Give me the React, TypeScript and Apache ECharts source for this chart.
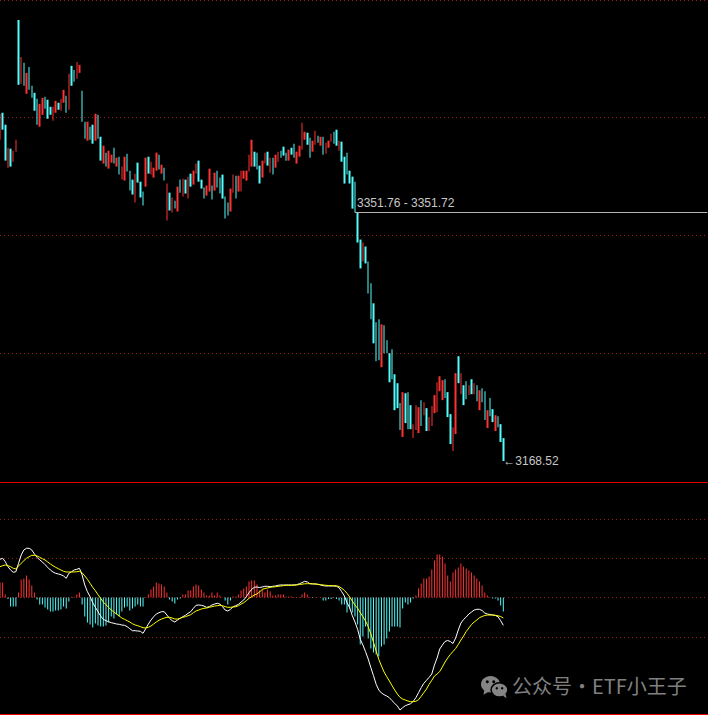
import React, { useEffect, useRef } from "react";
import * as echarts from "echarts";

// ---- price bars (high / low; 1 = up (red), 0 = down (cyan)) ----
const highs = [
  3424.6, 3425.3, 3416.5, 3399.5, 3398.8, 3397.3, 3405.4, 3493.7, 3466.5, 3462.1,
  3454.7, 3459.1, 3445.2, 3440.0, 3435.6, 3431.9, 3436.3, 3437.1, 3434.9, 3429.7,
  3429.7, 3434.1, 3432.7, 3435.6, 3442.2, 3437.8, 3454.0, 3459.9, 3456.9, 3462.8,
  3460.6, 3441.5, 3418.7, 3418.7, 3415.0, 3416.5, 3424.6, 3423.8, 3407.6, 3401.0,
  3395.9, 3397.3, 3394.4, 3399.5, 3392.2, 3392.9, 3385.6, 3392.9, 3395.1, 3382.6,
  3376.0, 3380.4, 3388.5, 3374.5, 3367.2, 3392.2, 3392.9, 3389.2, 3384.8, 3395.9,
  3394.4, 3387.0, 3384.8, 3373.1, 3366.4, 3362.8, 3360.5, 3370.8, 3376.0, 3376.7,
  3376.0, 3378.2, 3380.4, 3382.6, 3387.8, 3390.0, 3376.0, 3370.1, 3371.6, 3384.1,
  3371.6, 3381.1, 3382.6, 3377.5, 3379.7, 3363.5, 3359.1, 3369.4, 3379.7, 3378.9,
  3378.9, 3382.6, 3382.6, 3382.6, 3394.4, 3405.4, 3396.6, 3395.9, 3386.3, 3390.0,
  3395.9, 3396.6, 3392.2, 3392.2, 3394.4, 3396.6, 3397.3, 3400.3, 3395.9, 3398.1,
  3399.5, 3402.5, 3396.6, 3401.0, 3417.9, 3411.3, 3410.6, 3406.9, 3404.7, 3412.0,
  3408.4, 3407.6, 3407.6, 3403.2, 3404.7, 3409.8, 3411.3, 3412.8, 3404.7, 3404.0,
  3392.9, 3395.9, 3382.6, 3378.2, 3374.5, 3351.72, 3331.8, 3329.6, 3326.7, 3315.7,
  3299.5, 3284.8, 3270.8, 3273.0, 3269.3, 3268.6, 3257.5, 3248.0, 3250.9, 3232.5,
  3225.9, 3211.2, 3219.3, 3218.5, 3219.3, 3209.7, 3195.7, 3209.7, 3208.2, 3213.4,
  3211.9, 3207.5, 3200.9, 3209.0, 3217.1, 3226.6, 3231.0, 3228.1, 3228.8, 3219.3,
  3203.1, 3193.5, 3233.3, 3245.8, 3233.3, 3224.4, 3227.4, 3224.4, 3228.8, 3225.9,
  3224.4, 3220.7, 3222.2, 3220.0, 3206.0, 3214.9, 3206.8, 3202.3, 3201.6, 3195.7,
  3185.4,
];
const lows = [
  3405.4, 3412.8, 3390.0, 3384.8, 3385.6, 3389.2, 3396.6, 3445.9, 3446.6, 3445.2,
  3439.3, 3442.2, 3436.3, 3426.8, 3416.5, 3415.0, 3423.8, 3428.2, 3420.9, 3423.8,
  3419.4, 3425.3, 3427.5, 3426.8, 3432.7, 3425.3, 3427.5, 3445.2, 3448.1, 3450.3,
  3454.7, 3418.7, 3406.2, 3404.7, 3405.4, 3402.5, 3404.7, 3406.2, 3390.0, 3387.8,
  3385.6, 3384.1, 3388.5, 3387.8, 3385.6, 3379.7, 3376.0, 3375.3, 3381.9, 3367.9,
  3365.0, 3359.1, 3373.8, 3362.8, 3356.9, 3370.8, 3380.4, 3379.7, 3377.5, 3382.6,
  3383.4, 3380.4, 3375.3, 3345.8, 3353.2, 3351.7, 3354.7, 3352.5, 3366.4, 3363.5,
  3365.7, 3362.0, 3370.8, 3372.3, 3380.4, 3374.5, 3369.4, 3362.0, 3364.2, 3367.2,
  3361.3, 3367.9, 3370.1, 3365.7, 3362.0, 3347.3, 3349.5, 3352.5, 3366.4, 3362.0,
  3367.2, 3367.2, 3376.7, 3375.3, 3381.9, 3385.6, 3385.6, 3383.4, 3373.1, 3377.5,
  3387.8, 3386.3, 3381.1, 3379.7, 3384.8, 3389.2, 3392.2, 3393.7, 3390.0, 3390.0,
  3394.4, 3392.2, 3387.8, 3392.9, 3398.1, 3405.4, 3401.7, 3392.2, 3396.6, 3401.7,
  3403.2, 3401.0, 3394.4, 3395.1, 3399.5, 3404.0, 3402.5, 3401.0, 3397.3, 3389.2,
  3373.1, 3379.7, 3373.1, 3354.6, 3351.76, 3329.6, 3310.5, 3315.7, 3314.2, 3292.1,
  3273.0, 3255.3, 3242.1, 3242.8, 3237.7, 3248.0, 3248.0, 3226.6, 3228.8, 3206.0,
  3207.5, 3191.3, 3186.2, 3196.5, 3192.0, 3192.0, 3185.4, 3191.3, 3189.1, 3194.3,
  3202.3, 3190.6, 3190.6, 3194.3, 3203.8, 3204.5, 3220.0, 3213.4, 3214.9, 3200.9,
  3181.0, 3175.9, 3188.4, 3225.9, 3217.8, 3209.7, 3214.1, 3217.1, 3217.8, 3217.8,
  3212.6, 3206.0, 3211.9, 3198.7, 3192.8, 3201.6, 3197.2, 3190.6, 3193.5, 3182.5,
  3168.52,
];
const upBars = [
  1, 0, 0, 1, 0, 1, 1, 0, 1, 0,
  1, 0, 0, 0, 0, 1, 1, 0, 0, 0,
  1, 1, 0, 1, 1, 0, 1, 0, 0, 1,
  1, 0, 0, 1, 0, 0, 1, 0, 0, 1,
  0, 1, 1, 0, 1, 0, 1, 1, 0, 0,
  0, 1, 0, 0, 0, 1, 0, 1, 1, 1,
  0, 1, 0, 1, 0, 1, 0, 1, 0, 1,
  0, 1, 0, 1, 1, 0, 0, 0, 1, 1,
  0, 1, 0, 0, 0, 0, 0, 1, 1, 0,
  1, 1, 1, 1, 1, 1, 0, 0, 0, 1,
  1, 0, 1, 0, 1, 1, 0, 0, 0, 1,
  0, 0, 1, 1, 1, 1, 0, 0, 1, 1,
  0, 1, 0, 1, 1, 1, 0, 0, 1, 0,
  0, 0, 0, 0, 0, 0, 0, 1, 0, 0,
  0, 0, 0, 0, 1, 0, 0, 0, 0, 0,
  0, 0, 1, 0, 0, 0, 1, 1, 1, 0,
  1, 0, 1, 1, 1, 1, 1, 1, 0, 0,
  0, 1, 1, 0, 1, 0, 0, 1, 0, 1,
  0, 1, 0, 0, 1, 0, 0, 1, 0, 0,
  0,
];

// ---- MACD (DIF white, DEA yellow, histogram) ----
const dif = [
  9.55, 9.8, 8.95, 7.7, 6.88, 6.3, 6.45, 8.55, 10.63, 11.88,
  12.3, 12.3, 11.88, 10.88, 10.05, 9.38, 8.88, 8.2, 7.55, 6.88,
  6.38, 6.05, 5.88, 5.7, 5.38, 4.8, 6.05, 6.45, 6.88, 7.05,
  7.3, 5.63, 3.13, 1.45, 0.2, -1.3, -2.45, -3.55, -4.63, -5.45,
  -5.8, -6.05, -6.3, -6.45, -6.63, -6.7, -6.88, -6.95, -7.3, -7.8,
  -8.3, -8.3, -8.38, -8.45, -8.95, -7.8, -6.63, -5.63, -4.8, -4.13,
  -3.8, -3.55, -3.55, -4.38, -5.2, -5.8, -6.13, -5.63, -5.2, -4.8,
  -4.45, -3.95, -3.55, -2.7, -1.95, -1.88, -1.95, -2.13, -2.45, -2.3,
  -1.88, -1.63, -1.45, -1.63, -2.3, -3.13, -3.38, -2.95, -2.3, -2.05,
  -1.7, -1.13, -0.63, 0.2, 1.2, 2.05, 2.55, 2.63, 2.5, 2.63,
  2.8, 2.8, 2.7, 2.8, 2.88, 3.05, 3.13, 3.13, 3.13, 3.13,
  3.13, 3.13, 3.2, 3.45, 3.7, 4.05, 3.88, 3.45, 3.38, 3.38,
  3.3, 3.13, 2.95, 2.88, 2.88, 2.88, 2.88, 2.8, 2.45, 1.45,
  0.38, -1.3, -2.55, -4.55, -6.13, -7.95, -10.45, -11.88, -13.55, -15.38,
  -17.55, -19.55, -21.7, -23.13, -23.88, -24.3, -24.63, -25.05, -25.8, -26.45,
  -27.13, -28.13, -27.55, -27.05, -26.8, -26.55, -25.95, -25.05, -23.8, -22.55,
  -21.45, -20.7, -19.95, -19.13, -16.88, -15.13, -12.88, -11.88, -11.0, -10.75,
  -11.0, -11.5, -10.13, -8.13, -6.38, -5.5, -4.88, -4.13, -3.63, -3.13,
  -2.95, -2.95, -3.25, -3.88, -4.13, -4.25, -4.38, -4.5, -4.8, -5.8,
  -6.95,
];
const dea = [
  7.7, 7.95, 8.13, 7.95, 7.7, 7.3, 7.13, 7.88, 8.55, 9.2,
  9.8, 10.2, 10.55, 10.55, 10.38, 10.05, 9.7, 9.38, 8.88, 8.38,
  7.95, 7.55, 7.2, 6.88, 6.55, 6.38, 6.38, 6.38, 6.38, 6.45,
  6.55, 6.2, 5.38, 4.55, 3.55, 2.55, 1.7, 0.7, -0.2, -1.13,
  -1.8, -2.45, -3.13, -3.63, -4.13, -4.63, -5.13, -5.45, -5.8, -6.13,
  -6.55, -6.88, -7.05, -7.3, -7.55, -7.63, -7.45, -7.13, -6.63, -6.13,
  -5.7, -5.38, -5.13, -4.95, -4.95, -5.13, -5.38, -5.38, -5.2, -4.95,
  -4.8, -4.55, -4.3, -3.8, -3.38, -3.13, -2.88, -2.7, -2.63, -2.45,
  -2.3, -2.13, -2.05, -1.95, -2.05, -2.3, -2.45, -2.45, -2.38, -2.3,
  -2.05, -1.63, -1.3, -0.8, -0.2, 0.2, 0.63, 0.88, 1.38, 2.05,
  2.25, 2.38, 2.55, 2.63, 2.7, 2.8, 2.88, 2.95, 3.05, 3.05,
  3.05, 3.08, 3.13, 3.25, 3.33, 3.43, 3.45, 3.45, 3.43, 3.38,
  3.3, 3.2, 3.13, 3.05, 3.0, 2.95, 2.95, 2.93, 2.75, 2.3,
  1.8, 1.05, 0.13, -0.88, -1.88, -2.7, -3.8, -4.8, -5.88, -7.3,
  -9.13, -11.2, -13.38, -15.45, -17.13, -18.63, -19.8, -20.88, -22.05, -23.13,
  -24.13, -24.95, -25.38, -25.63, -25.88, -26.05, -26.05, -25.95, -25.55, -24.7,
  -23.8, -22.88, -21.7, -20.7, -19.63, -19.13, -18.5, -17.38, -16.13, -15.13,
  -14.25, -13.5, -12.75, -11.75, -10.63, -9.63, -8.5, -7.63, -6.75, -6.13,
  -5.63, -5.05, -4.75, -4.5, -4.38, -4.38, -4.38, -4.43, -4.58, -4.75,
  -5.13,
];
const macdHist = [
  3.75, 3.75, 0.75, -0.38, -2.25, -2.25, -2.25, 1.25, 4.5, 4.75,
  5.5, 4.5, 3.0, 1.25, -0.5, -1.75, -1.75, -2.5, -3.0, -3.5,
  -3.5, -3.25, -3.25, -3.0, -2.25, -2.75, -1.0, 0.2, 0.2, 0.75,
  1.25, -1.75, -4.75, -6.25, -6.75, -7.5, -6.5, -7.0, -7.25, -7.25,
  -7.0, -6.25, -4.75, -5.25, -4.25, -4.75, -3.5, -2.5, -2.25, -3.25,
  -2.75, -2.25, -1.75, -2.25, -2.25, 0.1, 0.75, 2.0, 2.75, 3.75,
  3.5, 3.25, 2.75, 1.25, -0.5, -1.0, -1.5, -0.5, -0.25, 0.75,
  0.75, 1.75, 1.75, 2.75, 3.25, 3.0, 2.0, 1.25, 0.5, 0.5,
  1.25, 0.5, 1.25, 0.5, 0.05, -0.75, -1.75, -0.75, 0.25, 0.25,
  0.75, 1.75, 2.25, 2.75, 4.0, 4.25, 4.25, 3.25, 1.75, 2.0,
  1.25, 2.0, 1.5, 0.5, 0.5, 0.75, 0.75, 0.75, 0.25, 0.25,
  0.25, 0.13, 0.13, 0.13, 0.75, 1.25, 0.75, 0.13, -0.13, 0.05,
  0.05, 0.05, -0.75, -0.75, -0.38, -0.38, -0.13, -0.38, -0.75, -1.75,
  -1.75, -3.75, -2.75, -3.75, -4.75, -6.75, -11.75, -9.75, -7.25, -10.25,
  -12.75, -13.75, -14.25, -14.75, -12.25, -11.75, -10.25, -8.5, -7.25, -7.25,
  -7.25, -7.5, -2.75, -1.25, -1.75, -1.25, -0.25, 0.5, 2.25, 3.5,
  4.75, 4.75, 5.25, 7.0, 9.25, 10.75, 10.75, 10.25, 8.5, 5.5,
  4.0, 6.25, 7.0, 7.5, 8.5, 7.75, 7.25, 6.75, 6.25, 5.5,
  4.75, 4.0, 3.0, 1.25, 0.5, 0.1, -0.25, -0.25, -0.75, -2.0,
  -3.5,
];

const SLOT_COUNT = 268;
const categories = Array.from({ length: SLOT_COUNT }, (_, i) => `T${i + 1}`);
const GAP_BAR = 134; // bar whose low opens the gap to the next bar's high
const WATERMARK = "公众号·ETF小王子";

const RED = "#ff3232";
const CYAN = "#54fcfc";
const GRID_DOT = "#9a1a1a";
const SEP_RED = "#e00000";

export default function App() {
  const ref = useRef<HTMLDivElement>(null);

  useEffect(() => {
    if (!ref.current) return;
    const chart = echarts.init(ref.current, null, { renderer: "svg" });

    const candles = highs.map((h, i) =>
      upBars[i] ? [lows[i], h, lows[i], h] : [h, lows[i], lows[i], h]
    );
    const last = highs.length - 1;
    const gapLevel = lows[GAP_BAR];
    const gapLabel = `${lows[GAP_BAR].toFixed(2)} - ${highs[GAP_BAR + 1].toFixed(2)}`;
    const plotW = (SLOT_COUNT - 1) * 2.649;

    const dotted = {
      show: true,
      lineStyle: { color: GRID_DOT, width: 1, type: [1, 3] },
    };
    const helperY = (gridIndex: number) => ({
      type: "value",
      gridIndex,
      min: 0,
      max: 3,
      interval: 1,
      axisLine: { show: false },
      axisTick: { show: false },
      axisLabel: { show: false },
      splitLine: dotted,
    });
    const hiddenX = (gridIndex: number) => ({
      type: "value",
      gridIndex,
      min: 0,
      max: 1,
      show: false,
    });
    const sepX = (position: "top" | "bottom") => ({
      type: "value",
      gridIndex: 4,
      position,
      min: 0,
      max: 1,
      axisLine: { show: true, onZero: false, lineStyle: { color: SEP_RED, width: 1 } },
      axisTick: { show: false },
      axisLabel: { show: false },
      splitLine: { show: false },
    });

    const option: any = {
      animation: false,
      backgroundColor: "#000000",
      grid: [
        { left: 0, top: -1, width: plotW, height: 483 },
        { left: 0, top: 482, width: plotW, height: 232 },
        { left: 0, right: 0, top: -1, height: 354 },
        { left: 0, right: 0, top: 518.9, height: 117.9 },
        { left: 0, right: 0, top: 482, height: 232 },
      ],
      xAxis: [
        { type: "category", gridIndex: 0, data: categories, boundaryGap: false, show: false },
        { type: "category", gridIndex: 1, data: categories, boundaryGap: false, show: false },
        hiddenX(2),
        hiddenX(3),
        sepX("top"),
        sepX("bottom"),
      ],
      yAxis: [
        { type: "value", gridIndex: 0, min: 3153.04, max: 3508.44, show: false, splitLine: { show: false } },
        { type: "value", gridIndex: 1, min: -29.125, max: 28.875, show: false, splitLine: { show: false } },
        helperY(2),
        helperY(3),
        { type: "value", gridIndex: 4, min: 0, max: 1, show: false },
      ],
      series: [
        {
          type: "candlestick",
          xAxisIndex: 0,
          yAxisIndex: 0,
          data: candles,
          barWidth: 2,
          silent: true,
          itemStyle: {
            color: RED,
            color0: CYAN,
            borderColor: RED,
            borderColor0: CYAN,
            borderWidth: 0,
          },
          markLine: {
            silent: true,
            symbol: ["none", "none"],
            lineStyle: { color: "#b4b4b4", width: 1, type: "solid" },
            label: {
              show: true,
              position: "insideStartTop",
              formatter: gapLabel,
              color: "#c8c8c8",
              fontSize: 12,
              fontFamily: "Liberation Sans, Arial, sans-serif",
              distance: [2, 3],
            },
            data: [
              [
                { coord: [GAP_BAR, gapLevel] },
                { coord: [SLOT_COUNT - 1, gapLevel] },
              ],
            ],
          },
          markPoint: {
            silent: true,
            symbol: "rect",
            symbolSize: 0.01,
            itemStyle: { color: "transparent" },
            label: {
              show: true,
              position: "right",
              distance: 0,
              formatter: "←" + lows[last].toFixed(2),
              color: "#c8c8c8",
              fontSize: 12,
              fontFamily: "Liberation Sans, DejaVu Sans, sans-serif",
            },
            data: [{ coord: [last, lows[last]], value: lows[last] }],
          },
        },
        {
          type: "bar",
          name: "MACD",
          xAxisIndex: 1,
          yAxisIndex: 1,
          barWidth: 1,
          silent: true,
          data: macdHist.map((v) => ({
            value: v,
            itemStyle: { color: v >= 0 ? RED : CYAN },
          })),
        },
        {
          type: "line",
          name: "DIF",
          xAxisIndex: 1,
          yAxisIndex: 1,
          data: dif,
          showSymbol: false,
          symbol: "none",
          silent: true,
          lineStyle: { color: "#ffffff", width: 1 },
        },
        {
          type: "line",
          name: "DEA",
          xAxisIndex: 1,
          yAxisIndex: 1,
          data: dea,
          showSymbol: false,
          symbol: "none",
          silent: true,
          lineStyle: { color: "#ffff00", width: 1 },
        },
      ],
      graphic: [
        {
          type: "group",
          left: 481,
          top: 676,
          silent: true,
          children: [
            { type: "ellipse", shape: { cx: 9.5, cy: 8.5, rx: 9.5, ry: 8.2 }, style: { fill: "#858585" } },
            { type: "polygon", shape: { points: [[3.5, 13], [2.5, 19], [8.5, 15.5]] }, style: { fill: "#858585" } },
            { type: "circle", shape: { cx: 6.3, cy: 6, r: 1.5 }, style: { fill: "#000" } },
            { type: "circle", shape: { cx: 12.7, cy: 6, r: 1.5 }, style: { fill: "#000" } },
            { type: "ellipse", shape: { cx: 18.5, cy: 14.2, rx: 8.4, ry: 7.2 }, style: { fill: "#858585", stroke: "#000", lineWidth: 1.5 } },
            { type: "polygon", shape: { points: [[22, 20], [25.5, 22.5], [24.5, 18]] }, style: { fill: "#858585" } },
            { type: "circle", shape: { cx: 15.8, cy: 12.6, r: 1.2 }, style: { fill: "#000" } },
            { type: "circle", shape: { cx: 21.2, cy: 12.6, r: 1.2 }, style: { fill: "#000" } },
          ],
        },
        {
          type: "text",
          left: 512,
          top: 675,
          silent: true,
          style: {
            text: WATERMARK,
            fill: "#808080",
            font: '20px "Noto Sans CJK SC", sans-serif',
          },
        },
      ],
    };

    chart.setOption(option);
    return () => chart.dispose();
  }, []);

  return (
    <div
      ref={ref}
      style={{
        position: "fixed",
        left: 0,
        top: 0,
        width: 708,
        height: 715,
        background: "#000",
      }}
    />
  );
}
